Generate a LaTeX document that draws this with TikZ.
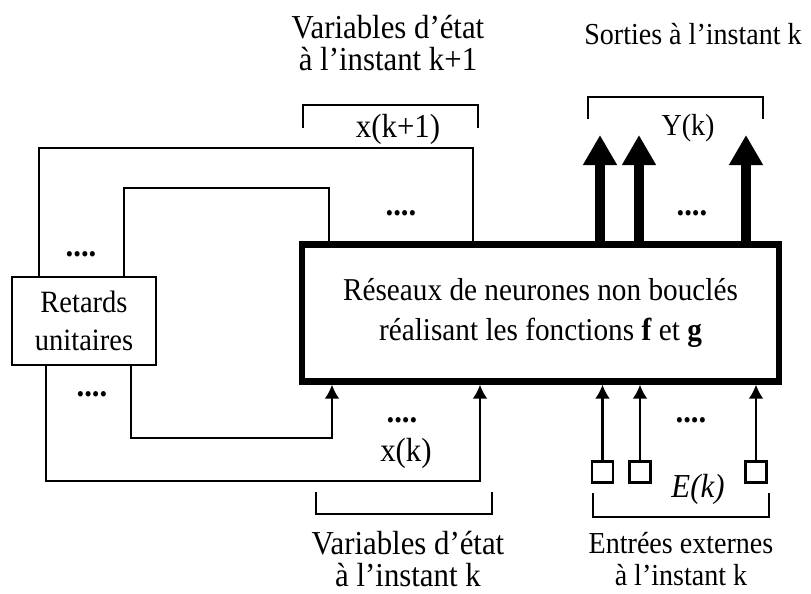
\documentclass[tikz,border=0pt]{standalone}
\usepackage{fontspec}
\setmainfont{Liberation Serif}[FakeStretch=0.92]
\usetikzlibrary{arrows.meta}

\begin{document}
\begin{tikzpicture}[x=0.5pt,y=-0.5pt,
                    grand/.style={font=\fontsize{16.75}{16}\selectfont},
                    moyen/.style={font=\fontsize{15.25}{16}\selectfont},
                    lien/.style={line width=1.1pt},
                    fleche/.style={line width=1.1pt,-{Latex[length=7pt,width=7.5pt]}},
                    grosse/.style={line width=5pt,-{Triangle[length=15pt,width=16pt]}},
                    carre/.style={draw,line width=1.1pt,inner sep=0pt,minimum size=10.5pt},
                    points/.style={grand,inner sep=0pt}]
    \useasboundingbox (0,0) rectangle (811,594);
    \node[draw,line width=3.2pt,inner sep=0pt,minimum width=238.5pt,minimum height=68.5pt,align=center,font=\fontsize{15.9}{20}\selectfont](reseau)at(540.5,313){R\'eseaux de neurones non boucl\'es\\r\'ealisant les fonctions \textbf{f} et \textbf{g}};
    \node[draw,line width=1.1pt,inner sep=0pt,minimum width=72pt,minimum height=44pt,align=center,font=\fontsize{15.5}{19}\selectfont](retards)at(84,321){\raisebox{-2.5pt}{}Retards\\unitaires};
    \coordinate (hautG) at (39,148);
    \coordinate (hautD) at (473,148);
    \coordinate (milG) at (124,188);
    \coordinate (milD) at (329,188);
    \coordinate (basG) at (131,438);
    \coordinate (basD) at (332,438);
    \coordinate (fondG) at (46,481);
    \coordinate (fondD) at (480,481);
    \draw[lien](retards.north -| hautG)--(hautG)--(hautD)--(reseau.north -| hautD);
    \draw[lien](retards.north -| milG)--(milG)--(milD)--(reseau.north -| milD);
    \draw[fleche](retards.south -| basG)--(basG)--(basD)--(reseau.south -| basD);
    \draw[fleche](retards.south -| fondG)--(fondG)--(fondD)--(reseau.south -| fondD);
    \coordinate (s1) at (600,135);
    \coordinate (s2) at (639,135);
    \coordinate (s3) at (746,135);
    \draw[grosse](reseau.north -| s1)--(s1);
    \draw[grosse](reseau.north -| s2)--(s2);
    \draw[grosse](reseau.north -| s3)--(s3);
    \node[carre](e1)at(602.5,472){};
    \node[carre](e2)at(640,472){};
    \node[carre](e3)at(756,472){};
    \draw[fleche](e1)--(reseau.south -| e1);
    \draw[fleche](e2)--(reseau.south -| e2);
    \draw[fleche](e3)--(reseau.south -| e3);
    \draw[lien](303,128)|-(478,105)--(478,128);
    \draw[lien](588,119)|-(763,97)--(763,119);
    \draw[lien](316,492)|-(492,514)--(492,492);
    \draw[lien](593,493)|-(769,517)--(769,493);
    \node[points](pts1)at(81,254){\textbf{....}};
    \node[points](pts2)at(92,394){\textbf{....}};
    \node[points](pts3)at(401,213){\textbf{....}};
    \node[points](pts4)at(692,213){\textbf{....}};
    \node[points](pts5)at(402,420){\textbf{....}};
    \node[points](pts6)at(691,420){\textbf{....}};
    \node[grand,anchor=base](xk1)at(398,137){x(k+1)};
    \node[moyen,anchor=base](yk)at(688,135){Y(k)};
    \node[grand,anchor=base](xk)at(406,461){x(k)};
    \node[grand,anchor=base](ek)at(698,497){\textit{E(k)}};
    \node[grand,align=center](etatsuiv)at(388,43){Variables d'\'etat\\\`a l'instant k+1};
    \node[moyen,anchor=base](sorties)at(693,45){Sorties \`a l'instant k};
    \node[grand,align=center](etat)at(408,559){Variables d'\'etat\\\`a l'instant k};
    \node[moyen,align=center](entrees)at(681,559){Entr\'ees externes\\\`a l'instant k};
\end{tikzpicture}
\end{document}
